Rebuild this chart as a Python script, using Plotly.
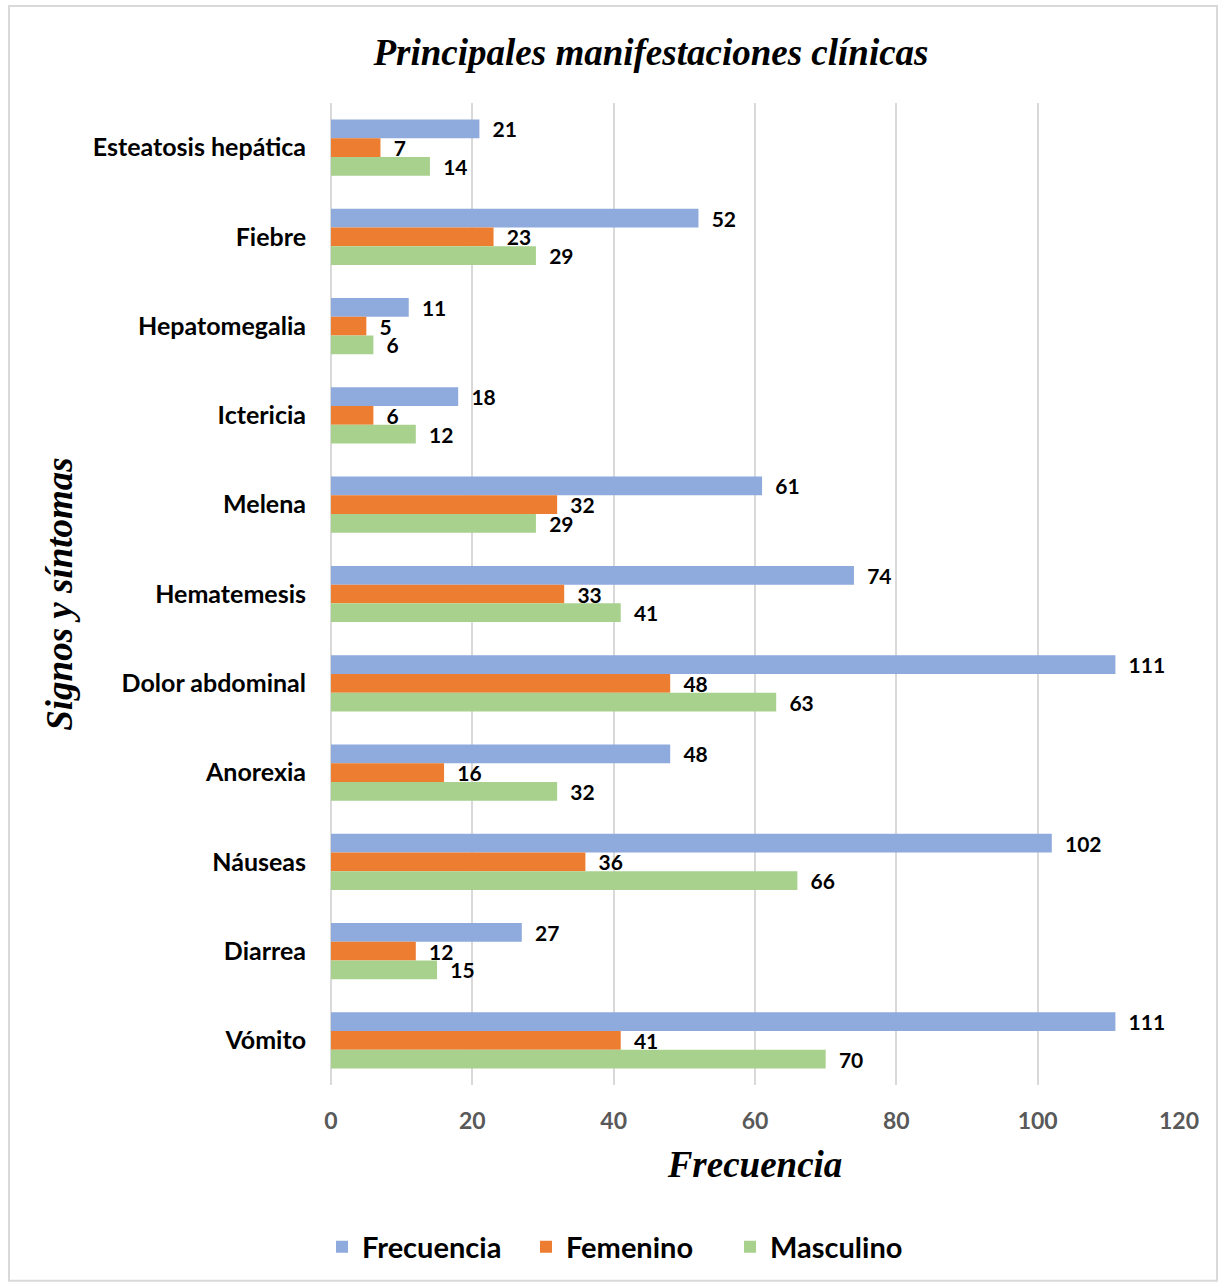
import plotly.graph_objects as go

# Clinical signs and symptoms, listed top to bottom
categorias = [
    "Esteatosis hepática", "Fiebre", "Hepatomegalia", "Ictericia", "Melena",
    "Hematemesis", "Dolor abdominal", "Anorexia", "Náuseas", "Diarrea", "Vómito",
]
frecuencia = [21, 52, 11, 18, 61, 74, 111, 48, 102, 27, 111]
femenino = [7, 23, 5, 6, 32, 33, 48, 16, 36, 12, 41]
masculino = [14, 29, 6, 12, 29, 41, 63, 32, 66, 15, 70]

x_ticks = [0, 20, 40, 60, 80, 100, 120]

series = [
    ("Frecuencia", frecuencia, "#8faadc"),
    ("Femenino", femenino, "#ed7d31"),
    ("Masculino", masculino, "#a9d18e"),
]

W, H = 1220, 1283
ML, MR, MT, MB = 331, 41, 103, 197
PW, PH = W - ML - MR, H - MT - MB

def px_x(p):
    return (p - ML) / PW

def px_y(p):
    return (H - MB - p) / PH

fig = go.Figure()
for name, vals, color in series:
    fig.add_trace(go.Bar(
        name=name,
        y=categorias,
        x=vals,
        orientation="h",
        marker=dict(color=color, line=dict(width=0)),
        text=vals,
        texttemplate="\u00a0\u00a0%{x}",
        textposition="outside",
        textfont=dict(family="Lato", size=21, color="#000000", weight="bold"),
        cliponaxis=False,
        constraintext="none",
    ))

serif_title = dict(family="Liberation Serif", size=37, color="#000000",
                   weight="bold", style="italic")

fig.update_layout(
    width=W, height=H,
    margin=dict(l=ML, r=MR, t=MT, b=MB),
    paper_bgcolor="#ffffff",
    plot_bgcolor="#ffffff",
    barmode="group",
    bargap=0.37,
    bargroupgap=0,
    title=dict(
        text="Principales manifestaciones clínicas",
        font=serif_title,
        x=px_x(651), xref="paper", xanchor="center",
        y=1 - 52 / H, yref="container", yanchor="middle",
    ),
    xaxis=dict(
        range=[0, 120],
        tickvals=x_ticks,
        showgrid=True,
        gridcolor="#d9d9d9",
        gridwidth=1.5,
        zeroline=True,
        zerolinecolor="#d9d9d9",
        zerolinewidth=1.5,
        showline=False,
        ticks="",
        ticklabelstandoff=20,
        tickfont=dict(family="Lato", size=23, color="#595959", weight="bold"),
        title=dict(text="Frecuencia", font=serif_title, standoff=18),
    ),
    yaxis=dict(
        autorange="reversed",
        showgrid=False,
        zeroline=False,
        showline=False,
        ticks="",
        ticklabelstandoff=24,
        tickfont=dict(family="Lato", size=25, color="#000000", weight="bold"),
        title=dict(text="Signos y síntomas", font=serif_title, standoff=8),
    ),
    legend=dict(
        orientation="h",
        x=px_x(322), xanchor="left",
        y=px_y(1247), yanchor="middle",
        font=dict(family="Lato", size=29, color="#000000", weight="bold"),
        entrywidth=159,
        entrywidthmode="pixels",
        bgcolor="rgba(0,0,0,0)",
    ),
    showlegend=True,
    shapes=[dict(
        type="rect", xref="paper", yref="paper",
        x0=px_x(9), x1=px_x(1217), y0=px_y(1282), y1=px_y(6),
        line=dict(color="#d9d9d9", width=2),
        fillcolor="rgba(0,0,0,0)",
        layer="below",
    )],
)

fig.write_html("out.html")
